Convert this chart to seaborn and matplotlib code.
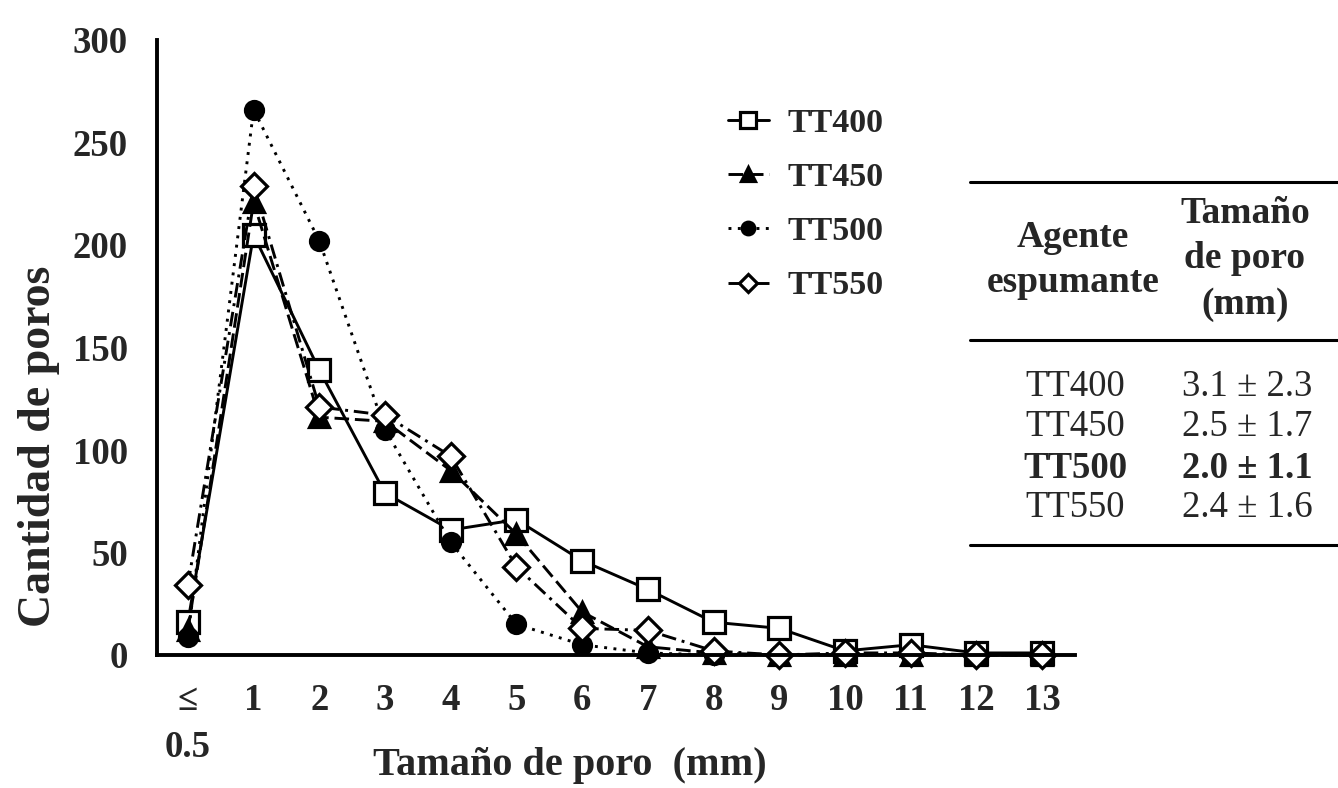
import matplotlib
matplotlib.use("Agg")
from matplotlib import pyplot as plt
from matplotlib.lines import Line2D
import pandas as pd
import seaborn as sns

# pore size classes (mm) and pore counts per foaming agent
size_labels = ["≤\n0.5", "1", "2", "3", "4", "5", "6", "7", "8", "9", "10", "11", "12", "13"]
tt400 = [16, 205, 139, 79, 61, 66, 46, 32, 16, 13, 2, 5, 1, 1]
tt450 = [12, 221, 116, 114, 90, 59, 21, 4, 1, 0, 0, 0, 0, 0]
tt500 = [9, 266, 202, 110, 55, 15, 5, 1, 0, 0, 0, 0, 0, 0]
tt550 = [34, 229, 121, 117, 97, 43, 13, 12, 2, 0, 1, 1, 0, 0]

# summary table
agents = ["TT400", "TT450", "TT500", "TT550"]
mean_size = ["3.1 ± 2.3", "2.5 ± 1.7", "2.0 ± 1.1", "2.4 ± 1.6"]

W, H = 1338, 788

sns.set_style("white")
plt.rcParams["font.family"] = ["Liberation Serif", "DejaVu Serif"]

fig = plt.figure(figsize=(W / 100, H / 100), dpi=100)
ax = fig.add_axes([157 / W, 1 - 655 / H, (1075 - 157) / W, (655 - 40) / H])

x = list(range(len(size_labels)))
series = {
    "TT400": dict(y=tt400, marker="s", mfc="white", ms=16, dashes=None),
    "TT450": dict(y=tt450, marker="^", mfc="black", ms=15, dashes=(5, 2)),
    "TT500": dict(y=tt500, marker="o", mfc="black", ms=13, dashes=(1, 2.2)),
    "TT550": dict(y=tt550, marker="D", mfc="white", ms=13, dashes=(5, 2, 1, 2)),
}

for name, s in series.items():
    df = pd.DataFrame({"x": x, "y": s["y"]})
    kws = dict(marker=s["marker"], markersize=s["ms"], markerfacecolor=s["mfc"],
               markeredgecolor="black", markeredgewidth=2.3, color="black",
               linewidth=2.1, label=name, clip_on=False)
    sns.lineplot(data=df, x="x", y="y", ax=ax, **kws)
    line = ax.lines[-1]
    if s["dashes"] is not None:
        line.set_dashes(s["dashes"])

ax.set_xlim(-0.47, 13.5)
ax.set_ylim(0, 300)
ax.set_yticks(range(0, 301, 50))
ax.set_xticks(x)
ax.set_xticklabels(size_labels, fontsize=26.5, fontweight="bold", linespacing=1.45)
for t in ax.get_yticklabels():
    t.set_fontsize(26.5)
    t.set_fontweight("bold")
ax.tick_params(axis="y", direction="in", length=9, width=2.5, pad=21)
ax.tick_params(axis="x", length=0, pad=20)

for side in ["top", "right"]:
    ax.spines[side].set_visible(False)
for side in ["left", "bottom"]:
    ax.spines[side].set_linewidth(2.8)
    ax.spines[side].set_color("black")

ax.set_xlabel("Tamaño de poro  (mm)", fontsize=29, fontweight="bold")
ax.set_ylabel("Cantidad de poros", fontsize=33, fontweight="bold")
ax.xaxis.set_label_coords(0.45, -0.15)
ax.yaxis.set_label_coords(-0.106, 0.34)

leg = ax.legend(loc="upper left", bbox_to_anchor=(728 / W, 1 - 108 / H),
                bbox_transform=fig.transFigure, frameon=False, fontsize=24.5,
                handlelength=1.2, handletextpad=0.55, labelspacing=0.68,
                markerscale=0.7, borderpad=0, borderaxespad=0)
for t in leg.get_texts():
    t.set_fontweight("bold")


def fx(px):
    return px / W


def fy(py):
    return 1 - py / H


# table rules
for py in [182, 340, 545]:
    fig.add_artist(Line2D([fx(970), fx(1338)], [fy(py), fy(py)], color="black",
                          linewidth=2.2, transform=fig.transFigure))

fig.text(fx(1073), fy(260), "Agente\nespumante", ha="center", va="center",
         fontsize=27, fontweight="bold", linespacing=1.38)
fig.text(fx(1245), fy(259), "Tamaño\nde poro\n(mm)", ha="center", va="center",
         fontsize=27, fontweight="bold", linespacing=1.38)

row_y = [387, 427, 468, 508]
for agent, val, py in zip(agents, mean_size, row_y):
    weight = "bold" if agent == "TT500" else "normal"
    fig.text(fx(1075), fy(py), agent, ha="center", va="center", fontsize=26.5, fontweight=weight)
    fig.text(fx(1247), fy(py), val, ha="center", va="center", fontsize=26.5, fontweight=weight)

fig.savefig("out.png", dpi=100)
